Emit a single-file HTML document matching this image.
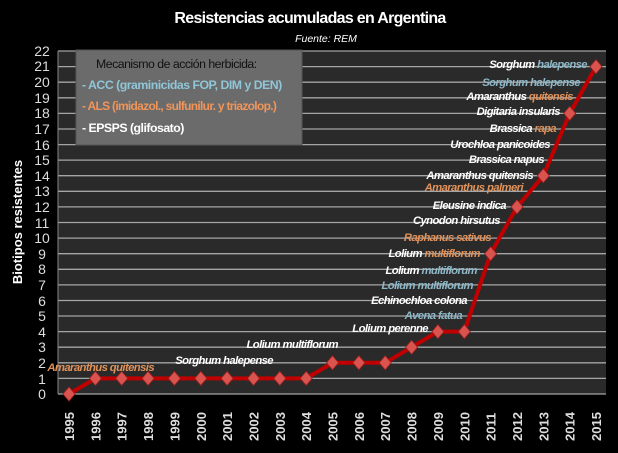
<!DOCTYPE html>
<html><head><meta charset="utf-8"><style>
html,body{margin:0;padding:0;background:#000;}
svg{display:block}
.l{font-family:"Liberation Sans",sans-serif;font-weight:bold;font-style:italic;font-size:11.3px;fill:#fff;text-anchor:end;letter-spacing:-0.6px}
.b{fill:#8fb8c8}.o{fill:#e0925a}
.yt{font-family:"Liberation Sans",sans-serif;font-size:14px;fill:#ddd;text-anchor:middle}
.xt{font-family:"Liberation Sans",sans-serif;font-weight:bold;font-size:13px;fill:#ddd}
</style></head><body>
<svg width="618" height="453" viewBox="0 0 618 453" xmlns="http://www.w3.org/2000/svg">
<rect width="618" height="453" fill="#000"/>
<text x="310" y="23" font-family="Liberation Sans,sans-serif" font-weight="bold" font-size="16" fill="#fff" text-anchor="middle" letter-spacing="-0.7">Resistencias acumuladas en Argentina</text>
<text x="326" y="42" font-family="Liberation Sans,sans-serif" font-style="italic" font-size="10.5" fill="#fff" text-anchor="middle">Fuente: REM</text>
<rect x="58" y="51" width="548" height="343" fill="#2a2a2a"/>
<g stroke="#a5a5a5" stroke-width="1.3">
<line x1="58" x2="606" y1="51" y2="51"/><line x1="58" x2="606" y1="66.6" y2="66.6"/><line x1="58" x2="606" y1="82.2" y2="82.2"/><line x1="58" x2="606" y1="97.8" y2="97.8"/><line x1="58" x2="606" y1="113.4" y2="113.4"/><line x1="58" x2="606" y1="129" y2="129"/><line x1="58" x2="606" y1="144.6" y2="144.6"/><line x1="58" x2="606" y1="160.1" y2="160.1"/><line x1="58" x2="606" y1="175.7" y2="175.7"/><line x1="58" x2="606" y1="191.3" y2="191.3"/><line x1="58" x2="606" y1="206.9" y2="206.9"/><line x1="58" x2="606" y1="222.5" y2="222.5"/><line x1="58" x2="606" y1="238.1" y2="238.1"/><line x1="58" x2="606" y1="253.7" y2="253.7"/><line x1="58" x2="606" y1="269.3" y2="269.3"/><line x1="58" x2="606" y1="284.9" y2="284.9"/><line x1="58" x2="606" y1="300.5" y2="300.5"/><line x1="58" x2="606" y1="316" y2="316"/><line x1="58" x2="606" y1="331.6" y2="331.6"/><line x1="58" x2="606" y1="347.2" y2="347.2"/><line x1="58" x2="606" y1="362.8" y2="362.8"/><line x1="58" x2="606" y1="378.4" y2="378.4"/><line x1="58" x2="606" y1="394" y2="394"/>
</g>
<line x1="58" x2="58" y1="51" y2="394" stroke="#888"/>
<g class="yt">
<text x="42" y="56">22</text><text x="42" y="71">21</text><text x="42" y="87">20</text><text x="42" y="103">19</text><text x="42" y="118">18</text><text x="42" y="134">17</text><text x="42" y="150">16</text><text x="42" y="165">15</text><text x="42" y="181">14</text><text x="42" y="196">13</text><text x="42" y="212">12</text><text x="42" y="228">11</text><text x="42" y="243">10</text><text x="42" y="259">9</text><text x="42" y="274">8</text><text x="42" y="290">7</text><text x="42" y="306">6</text><text x="42" y="321">5</text><text x="42" y="337">4</text><text x="42" y="352">3</text><text x="42" y="368">2</text><text x="42" y="384">1</text><text x="42" y="399">0</text>
</g>
<text transform="translate(22,222) rotate(-90)" font-family="Liberation Sans,sans-serif" font-weight="bold" font-size="13" fill="#fff" text-anchor="middle">Biotipos resistentes</text>
<g class="xt">
<text transform="translate(74,441) rotate(-90)">1995</text><text transform="translate(100.4,441) rotate(-90)">1996</text><text transform="translate(126.7,441) rotate(-90)">1997</text><text transform="translate(153.1,441) rotate(-90)">1998</text><text transform="translate(179.4,441) rotate(-90)">1999</text><text transform="translate(205.8,441) rotate(-90)">2000</text><text transform="translate(232.1,441) rotate(-90)">2001</text><text transform="translate(258.5,441) rotate(-90)">2002</text><text transform="translate(284.8,441) rotate(-90)">2003</text><text transform="translate(311.2,441) rotate(-90)">2004</text><text transform="translate(337.5,441) rotate(-90)">2005</text><text transform="translate(363.9,441) rotate(-90)">2006</text><text transform="translate(390.2,441) rotate(-90)">2007</text><text transform="translate(416.6,441) rotate(-90)">2008</text><text transform="translate(442.9,441) rotate(-90)">2009</text><text transform="translate(469.3,441) rotate(-90)">2010</text><text transform="translate(495.6,441) rotate(-90)">2011</text><text transform="translate(522,441) rotate(-90)">2012</text><text transform="translate(548.3,441) rotate(-90)">2013</text><text transform="translate(574.7,441) rotate(-90)">2014</text><text transform="translate(601,441) rotate(-90)">2015</text>
</g>
<rect x="76" y="50" width="226" height="95" fill="#6b6b6b" stroke="#555"/>
<g font-family="Liberation Sans,sans-serif" font-size="12.3" letter-spacing="-0.5">
<text x="96" y="68" fill="#111">Mecanismo de acción herbicida:</text>
<text x="82" y="89" fill="#8fc6d8" font-weight="bold">- ACC (graminicidas FOP, DIM y DEN)</text>
<text x="82" y="110" fill="#f0955a" font-weight="bold" font-size="12" letter-spacing="-0.7">- ALS (imidazol., sulfunilur. y triazolop.)</text>
<text x="82" y="132" fill="#fff" font-weight="bold">- EPSPS (glifosato)</text>
</g>
<polyline fill="none" stroke="#c00000" stroke-width="4" stroke-linejoin="round" points="69,394 95.4,378.4 121.7,378.4 148.1,378.4 174.4,378.4 200.8,378.4 227.1,378.4 253.5,378.4 279.8,378.4 306.2,378.4 332.5,362.8 358.9,362.8 385.2,362.8 411.6,347.2 437.9,331.6 464.3,331.6 490.6,253.7 517,206.9 543.3,175.7 569.7,113.4 596,66.6"/>
<g fill="#d9534f" stroke="#a02020" stroke-width="0.8">
<path d="M69,387 l6,7 l-6,7 l-6,-7z"/><path d="M95.4,371.4 l6,7 l-6,7 l-6,-7z"/><path d="M121.7,371.4 l6,7 l-6,7 l-6,-7z"/><path d="M148.1,371.4 l6,7 l-6,7 l-6,-7z"/><path d="M174.4,371.4 l6,7 l-6,7 l-6,-7z"/><path d="M200.8,371.4 l6,7 l-6,7 l-6,-7z"/><path d="M227.1,371.4 l6,7 l-6,7 l-6,-7z"/><path d="M253.5,371.4 l6,7 l-6,7 l-6,-7z"/><path d="M279.8,371.4 l6,7 l-6,7 l-6,-7z"/><path d="M306.2,371.4 l6,7 l-6,7 l-6,-7z"/><path d="M332.5,355.8 l6,7 l-6,7 l-6,-7z"/><path d="M358.9,355.8 l6,7 l-6,7 l-6,-7z"/><path d="M385.2,355.8 l6,7 l-6,7 l-6,-7z"/><path d="M411.6,340.2 l6,7 l-6,7 l-6,-7z"/><path d="M437.9,324.6 l6,7 l-6,7 l-6,-7z"/><path d="M464.3,324.6 l6,7 l-6,7 l-6,-7z"/><path d="M490.6,246.7 l6,7 l-6,7 l-6,-7z"/><path d="M517,199.9 l6,7 l-6,7 l-6,-7z"/><path d="M543.3,168.7 l6,7 l-6,7 l-6,-7z"/><path d="M569.7,106.4 l6,7 l-6,7 l-6,-7z"/><path d="M596,59.6 l6,7 l-6,7 l-6,-7z"/>
</g>
<g class="l">
<text x="587" y="68">Sorghum <tspan class="b">halepense</tspan></text>
<text x="580" y="86" class="l b">Sorghum halepense</text>
<text x="573" y="100">Amaranthus <tspan class="o">quitensis</tspan></text>
<text x="560" y="115">Digitaria insularis</text>
<text x="556" y="132">Brassica <tspan class="o">rapa</tspan></text>
<text x="550" y="148">Urochloa panicoides</text>
<text x="544" y="163">Brassica napus</text>
<text x="533" y="179">Amaranthus quitensis</text>
<text x="523" y="191" class="l o">Amaranthus palmeri</text>
<text x="506" y="209">Eleusine indica</text>
<text x="500" y="224">Cynodon hirsutus</text>
<text x="491" y="241" class="l o">Raphanus sativus</text>
<text x="480" y="257">Lolium <tspan class="o">multiflorum</tspan></text>
<text x="477" y="274">Lolium <tspan class="b">multiflorum</tspan></text>
<text x="473" y="289" class="l b">Lolium multiflorum</text>
<text x="467" y="304">Echinochloa colona</text>
<text x="462" y="319" class="l b">Avena fatua</text>
<text x="428" y="332">Lolium perenne</text>
<text x="338" y="348">Lolium multiflorum</text>
<text x="273" y="364">Sorghum halepense</text>
<text x="154" y="371" class="l o">Amaranthus quitensis</text>
</g>
</svg>
</body></html>
